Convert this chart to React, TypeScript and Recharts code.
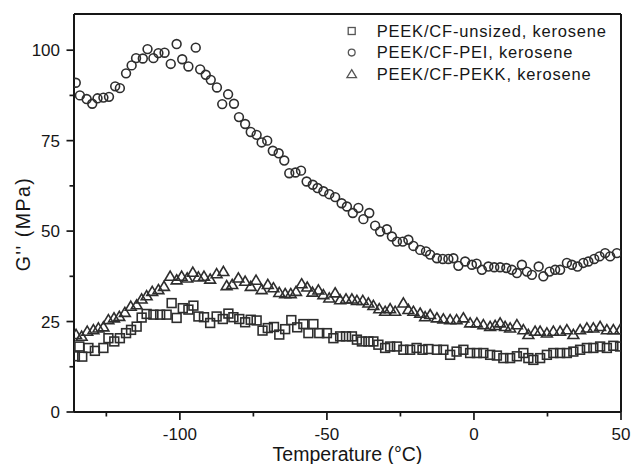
import React from 'react';
import { ScatterChart, Scatter, XAxis, YAxis, Legend, ReferenceLine } from 'recharts';

// ---- data ----
const seriesNames = ['PEEK/CF-unsized, kerosene', 'PEEK/CF-PEI, kerosene', 'PEEK/CF-PEKK, kerosene'];

const unsizedT = [-135.7, -134.2, -133.2, -131.1, -128.9, -126, -124.3, -122.3, -120.4, -118.3, -116.6, -114.7, -113, -111.3, -109, -106.7, -104.5, -102.8, -101.1, -99, -97.1, -95.4, -93.7, -91.8, -89.7, -87.5, -85.4, -83.5, -81.8, -79.8, -77.8, -75.9, -73.9, -71.9, -70.1, -68, -66.2, -64.2, -62.1, -60.1, -58, -56.3, -54.6, -52.6, -50, -47.8, -45.5, -43.5, -41.5, -39.8, -38.1, -35.9, -34.2, -32.5, -30.2, -28.5, -26.2, -24, -21.7, -19.5, -17.5, -15.5, -12.6, -10.4, -8.1, -5.9, -3.6, -1.3, 1, 3.2, 5.5, 7.8, 10, 12.3, 14.6, 16.8, 18.5, 20.2, 22.5, 24.8, 27, 29.3, 31.6, 33.8, 36.1, 38.4, 40.6, 42.9, 45.2, 47.4, 49.7];
const unsizedG = [15.4, 18.1, 15.3, 17.7, 16.9, 17.7, 20.4, 19.5, 20.4, 21.8, 22.7, 23.6, 26.1, 27.1, 26.9, 26.9, 26.9, 30.1, 26, 28.7, 28.3, 29.4, 26.4, 26.2, 24.6, 26.4, 25.7, 27.2, 26.2, 25.7, 24.8, 25.5, 25.3, 22.5, 23.2, 23.5, 21.4, 22.9, 25.4, 23.4, 24.3, 21.8, 24.3, 21.8, 21.8, 20.4, 20.9, 20.9, 20.9, 20, 19.5, 19.5, 19.5, 18.6, 17.7, 18.1, 18.1, 17.2, 17.2, 17.7, 17.2, 17.4, 17.2, 17.2, 15.8, 16.7, 17.2, 16.3, 16.3, 16.3, 15.8, 15.6, 14.9, 14.9, 15.4, 16.3, 14.9, 14.4, 14.9, 15.8, 16.3, 16.3, 16.3, 16.7, 17.2, 17.7, 17.7, 18.1, 17.7, 18.3, 18.1];

const peiT = [-135.4, -134, -131.7, -129.8, -128, -126, -124.1, -122, -120.4, -118.3, -116.4, -114.9, -112.6, -111, -109, -107.3, -105.2, -103.1, -101.1, -99.2, -97.1, -94.6, -93.1, -91.2, -89.5, -87.4, -85.6, -83.6, -81.6, -79.9, -77.8, -75.9, -73.9, -72.2, -70.3, -68.4, -66.4, -64.5, -62.8, -60.7, -58.8, -56.9, -54.8, -53.2, -51.2, -49.2, -47.2, -45, -43.2, -41.2, -39.3, -37.6, -35.6, -33.6, -31.9, -29.6, -27.9, -26.2, -24.2, -22.3, -20.6, -18.3, -16.3, -14.9, -12.6, -10.6, -8.7, -7, -5.3, -3, -0.7, 0.9, 2.7, 4.9, 6.9, 8.9, 11, 12.9, 14.6, 16.3, 18, 19.7, 22, 23.6, 25.7, 27.6, 29.3, 31.6, 33.3, 35.2, 37.2, 38.9, 40.9, 42.7, 44.6, 46.3, 48.6];
const peiG = [91, 87.5, 86.5, 85.2, 86.7, 86.9, 87.1, 90, 89.5, 93.6, 95.8, 97.8, 97.7, 100.3, 97.8, 99.2, 99.3, 96.2, 101.7, 97.5, 95.5, 100.7, 94.7, 93.2, 91.8, 89.7, 85.1, 87.8, 85.2, 81.5, 79.6, 77.4, 76.6, 74.5, 75, 72.2, 71.5, 69.5, 66, 66.2, 66.7, 63.7, 62.8, 61.9, 61, 60.2, 59.4, 57.7, 56.8, 55, 56.4, 53.3, 55, 51.5, 49.9, 50.5, 48.5, 47.1, 47.1, 47.6, 45.9, 44.8, 44.4, 43.5, 42.5, 42.3, 42.3, 42.5, 40.4, 41.6, 40.7, 41, 39.3, 40.2, 40, 40, 39.8, 39.3, 38.4, 40.7, 38.8, 37.9, 40.2, 37.5, 38.8, 39.3, 39.3, 41.2, 40.7, 40.2, 41.2, 41.6, 42.3, 43, 43.9, 43, 43.9];

const pekkT = [-135.3, -133.4, -131.5, -129.4, -127.7, -126, -124.3, -122.4, -120.6, -118.7, -116.7, -114.7, -113, -111.3, -109.4, -107.3, -105.4, -103.3, -101.1, -99.4, -97.5, -95.6, -93.7, -91.8, -89.7, -87.5, -85.2, -84.1, -82.2, -80.1, -77.8, -75.9, -74.1, -72.2, -70.1, -68.2, -66.2, -64.2, -62.3, -60.5, -58.6, -56.7, -54.9, -52.9, -51.2, -49.2, -47.2, -45.5, -43.5, -41.5, -39.8, -37.8, -35.9, -34.2, -32.2, -30.2, -28.5, -26.8, -24, -22.3, -20.6, -18.3, -16.6, -14.9, -12.6, -10.4, -8.1, -5.9, -3.6, -1.3, 1, 3.2, 5.5, 7.2, 8.9, 10.6, 12.3, 14.6, 16.8, 18.5, 20.8, 22.5, 24.8, 27, 29.3, 31.6, 33.8, 36.1, 38.4, 40.6, 42.9, 45.2, 47.4, 49.7];
const pekkG = [21.4, 20.9, 22.3, 22.7, 23.2, 23.5, 25.5, 26, 26.4, 27.5, 29.2, 29.6, 31.2, 32.1, 33.3, 33.8, 34.7, 37.5, 36.5, 37.5, 37, 38.6, 37.3, 37.5, 36.7, 38.2, 38.8, 34.9, 35.2, 37, 36.1, 34.7, 36.4, 33.8, 35.2, 34.3, 33, 32.7, 32.7, 33.3, 35.4, 34.5, 33.1, 33.7, 32.4, 31.5, 32.9, 31, 31.2, 31.2, 30.8, 30.8, 30.1, 29.4, 28.5, 27.8, 28.5, 27.8, 30.1, 28.3, 27.8, 27.3, 26.3, 26.9, 26, 25.7, 25.5, 25.5, 26, 24.6, 24.6, 24.1, 23.6, 23.9, 24.6, 23.6, 23.2, 24.1, 22.7, 21.4, 22.3, 22.3, 21.8, 22.3, 22.3, 22.7, 21.4, 22.7, 23.2, 23.2, 23.6, 22.7, 22.7, 22.7];

const xTicks = [-125, -100, -75, -50, -25, 0, 25, 50];
const xMajor = [-100, -50, 0, 50];
const yTicks = [0, 12.5, 25, 37.5, 50, 62.5, 75, 87.5, 100];
const yMajor = [0, 25, 50, 75, 100];
const xDomain: [number, number] = [-136, 50];
const yDomain: [number, number] = [0, 110];
const xTitle = 'Temperature (°C)';
const yTitle = "G'' (MPa)";

const toPoints = (t: number[], g: number[]) => t.map((x, i) => ({ x, y: g[i] }));

const FONT = '"Liberation Sans", Arial, Helvetica, sans-serif';
const INK = '#161616';
const MARK = '#2e2e2e';

const CircleShape = (p: any) => (
  <circle cx={p.cx} cy={p.cy} r={4.4} fill="none" stroke={MARK} strokeWidth={1.6} />
);
const SquareShape = (p: any) => (
  <rect x={p.cx - 4.4} y={p.cy - 4.4} width={8.8} height={8.8} fill="none" stroke={MARK} strokeWidth={1.6} />
);
const TriangleShape = (p: any) => (
  <polygon
    points={`${p.cx},${p.cy - 5.2} ${p.cx + 5.4},${p.cy + 3.9} ${p.cx - 5.4},${p.cy + 3.9}`}
    fill="none"
    stroke={MARK}
    strokeWidth={1.6}
    strokeLinejoin="miter"
  />
);

const XTick = (props: any) => {
  const { x, y, payload } = props;
  const major = xMajor.includes(payload.value);
  return (
    <g>
      <line x1={x} x2={x} y1={y} y2={y + (major ? 8 : 4.5)} stroke={INK} strokeWidth={1.7} />
      {major && (
        <text x={x} y={y + 28} textAnchor="middle" fontSize={17} fontFamily={FONT} fill={INK}>
          {String(payload.value)}
        </text>
      )}
    </g>
  );
};

const YTick = (props: any) => {
  const { x, y, payload } = props;
  const major = yMajor.includes(payload.value);
  return (
    <g>
      <line x1={x - (major ? 7.5 : 4.5)} x2={x} y1={y} y2={y} stroke={INK} strokeWidth={1.7} />
      {major && (
        <text x={x - 14} y={y + 6} textAnchor="end" fontSize={17} fontFamily={FONT} fill={INK}>
          {String(payload.value)}
        </text>
      )}
    </g>
  );
};

const XTitle = (props: any) => {
  const vb = props.viewBox || {};
  return (
    <text x={vb.x + vb.width / 2} y={vb.y + 49} textAnchor="middle" fontSize={19.5} fontFamily={FONT} fill={INK}>
      {xTitle}
    </text>
  );
};

const YTitle = (props: any) => {
  const vb = props.viewBox || {};
  const cx = vb.x + 23;
  const cy = vb.y + vb.height / 2 + 11;
  return (
    <text
      x={cx}
      y={cy}
      transform={`rotate(-90 ${cx} ${cy})`}
      textAnchor="middle"
      dominantBaseline="central"
      fontSize={19.5}
      letterSpacing={1.5}
      fontFamily={FONT}
      fill={INK}
    >
      {yTitle}
    </text>
  );
};

const LEG = '#555';
const legendIcons = [
  (cx: number, cy: number) => <rect x={cx - 3.5} y={cy - 3.5} width={7} height={7} fill="none" stroke={LEG} strokeWidth={1.3} />,
  (cx: number, cy: number) => <circle cx={cx} cy={cy} r={3.4} fill="none" stroke={LEG} strokeWidth={1.3} />,
  (cx: number, cy: number) => (
    <polygon points={`${cx},${cy - 4.5} ${cx + 4.8},${cy + 3.5} ${cx - 4.8},${cy + 3.5}`} fill="none" stroke={LEG} strokeWidth={1.3} />
  ),
];

const renderLegend = () => (
  <svg width={290} height={72} style={{ display: 'block' }}>
    {seriesNames.map((name, i) => (
      <g key={name}>
        {legendIcons[i](11.7, 11 + i * 21.6)}
        <text x={36.7} y={16.7 + i * 21.6} fontSize={16.5} letterSpacing={0.8} fontFamily={FONT} fill={INK}>
          {name}
        </text>
      </g>
    ))}
  </svg>
);

export default function App() {
  return (
    <div style={{ position: 'absolute', left: 0, top: 0, width: 631, height: 464, background: '#fff' }}>
      <ScatterChart width={631} height={464} margin={{ top: 14, right: 10, bottom: 0, left: 0 }}>
        <XAxis
          type="number"
          dataKey="x"
          domain={xDomain}
          ticks={xTicks}
          interval={0}
          height={52}
          tickSize={0}
          tickMargin={0}
          tickLine={false}
          tick={<XTick />}
          axisLine={{ stroke: INK, strokeWidth: 2 }}
          allowDataOverflow
          label={XTitle}
        />
        <YAxis
          type="number"
          dataKey="y"
          domain={yDomain}
          ticks={yTicks}
          interval={0}
          width={74}
          tickSize={0}
          tickMargin={0}
          tickLine={false}
          tick={<YTick />}
          axisLine={{ stroke: INK, strokeWidth: 2 }}
          allowDataOverflow
          label={YTitle}
        />
        <ReferenceLine y={110} stroke={INK} strokeWidth={2} />
        <ReferenceLine x={50} stroke={INK} strokeWidth={2} />
        <Legend
          layout="vertical"
          align="center"
          verticalAlign="middle"
          content={renderLegend}
          wrapperStyle={{ left: 340, top: 20, width: 290, height: 72 }}
        />
        <Scatter name={seriesNames[0]} data={toPoints(unsizedT, unsizedG)} shape={SquareShape} isAnimationActive={false} />
        <Scatter name={seriesNames[1]} data={toPoints(peiT, peiG)} shape={CircleShape} isAnimationActive={false} />
        <Scatter name={seriesNames[2]} data={toPoints(pekkT, pekkG)} shape={TriangleShape} isAnimationActive={false} />
      </ScatterChart>
    </div>
  );
}
